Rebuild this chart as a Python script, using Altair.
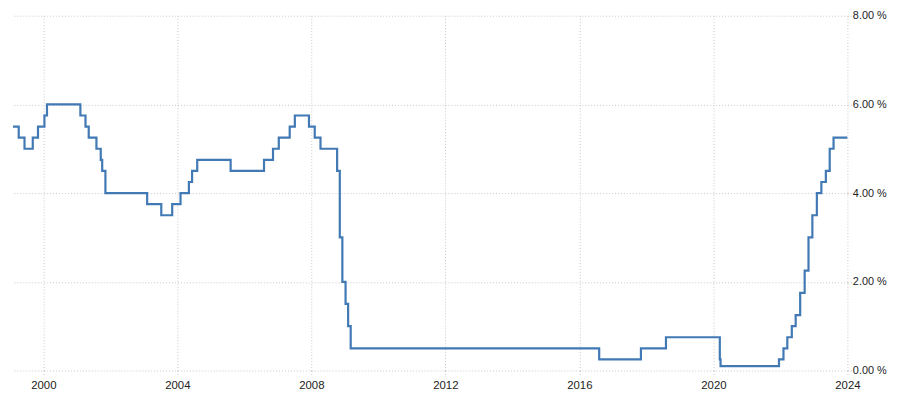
import altair as alt
import pandas as pd

# UK Bank Rate change dates and new rate (%)
dates = [
    "1999-02-04", "1999-04-08", "1999-06-10", "1999-09-08", "1999-11-04",
    "2000-01-13", "2000-02-10", "2001-02-08", "2001-04-05", "2001-05-10",
    "2001-08-02", "2001-09-18", "2001-10-04", "2001-11-08", "2003-02-06",
    "2003-07-10", "2003-11-06", "2004-02-05", "2004-05-06", "2004-06-10",
    "2004-08-05", "2005-08-04", "2006-08-03", "2006-11-09", "2007-01-11",
    "2007-05-10", "2007-07-05", "2007-12-06", "2008-02-07", "2008-04-10",
    "2008-10-08", "2008-11-06", "2008-12-04", "2009-01-08", "2009-02-05",
    "2009-03-05", "2016-08-04", "2017-11-02", "2018-08-02", "2020-03-11",
    "2020-03-19", "2021-12-16", "2022-02-03", "2022-03-17", "2022-05-05",
    "2022-06-16", "2022-08-04", "2022-09-22", "2022-11-03", "2022-12-15",
    "2023-02-02", "2023-03-23", "2023-05-11", "2023-06-22", "2023-08-03",
    "2024-01-01",
]
rates = [
    5.50, 5.25, 5.00, 5.25, 5.50,
    5.75, 6.00, 5.75, 5.50, 5.25,
    5.00, 4.75, 4.50, 4.00, 3.75,
    3.50, 3.75, 4.00, 4.25, 4.50,
    4.75, 4.50, 4.75, 5.00, 5.25,
    5.50, 5.75, 5.50, 5.25, 5.00,
    4.50, 3.00, 2.00, 1.50, 1.00,
    0.50, 0.25, 0.50, 0.75, 0.25,
    0.10, 0.25, 0.50, 0.75, 1.00,
    1.25, 1.75, 2.25, 3.00, 3.50,
    4.00, 4.25, 4.50, 5.00, 5.25,
    5.25,
]
tick_years = [2000, 2004, 2008, 2012, 2016, 2020, 2024]
y_ticks = [0, 2, 4, 6, 8]

df = pd.DataFrame({"date": [d + "T00:00:00" for d in dates], "rate": rates})

font = "Liberation Sans"
grid_color = "#c8c8c8"

chart = alt.Chart(df).mark_line(
    interpolate="step-after", color="#4179b4", strokeWidth=2.2
).encode(
    x=alt.X(
        "date:T",
        scale=alt.Scale(domain=["1999-02-04T00:00:00", "2024-01-01T00:00:00"]),
        axis=alt.Axis(
            values=[alt.DateTime(year=y, month=1, date=1) for y in tick_years],
            format="%Y", title=None, domain=False,
            grid=True, gridColor=grid_color, gridDash=[1, 2], gridWidth=1,
            ticks=True, tickSize=4, tickColor=grid_color, tickDash=[1, 2],
            labelFont=font, labelFontSize=11.5, labelColor="#222222",
            labelPadding=5, labelFlush=False,
        ),
    ),
    y=alt.Y(
        "rate:Q",
        scale=alt.Scale(domain=[0, 8]),
        axis=alt.Axis(
            orient="right", values=y_ticks, title=None, domain=False,
            ticks=True, tickSize=4, tickColor=grid_color, tickDash=[1, 2],
            grid=True, gridColor=grid_color, gridDash=[1, 2],
            gridWidth=1,
            labelExpr="format(datum.value, '.2f') + ' %'",
            labelFont=font, labelFontSize=11, labelColor="#222222",
            labelPadding=1,
        ),
    ),
).properties(
    width=842, height=358,
    background="white",
    padding={"left": 0, "top": 0, "right": 5, "bottom": 5},
).configure_view(stroke=None)

chart.save("out.html", embed_options={"renderer": "svg", "actions": False})
